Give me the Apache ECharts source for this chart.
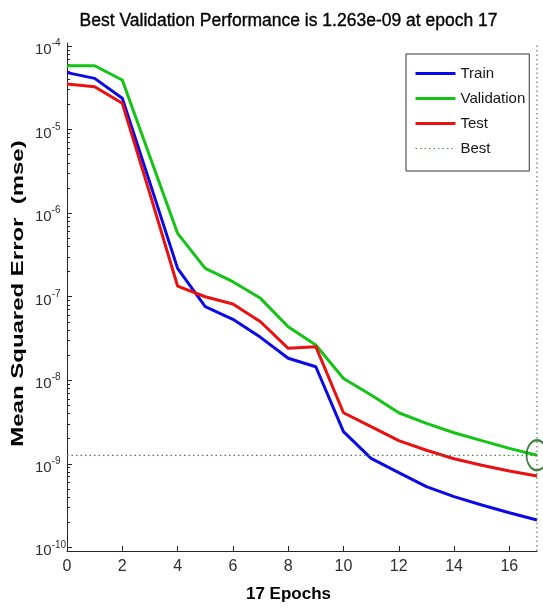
<!DOCTYPE html>
<html>
<head>
<meta charset="utf-8">
<script src="https://cdn.jsdelivr.net/npm/echarts@6/dist/echarts.min.js"></script>
<style>
  html, body { margin: 0; padding: 0; background: #fff; }
  #chart { width: 543px; height: 608px; }
</style>
</head>
<body>
<div id="chart"></div>
<script>
// Training record: mean squared error per epoch
const epochs = [0, 1, 2, 3, 4, 5, 6, 7, 8, 9, 10, 11, 12, 13, 14, 15, 16, 17];
const trainMse = [4.80e-5, 4.10e-5, 2.37e-5, 2.30e-6, 2.18e-7, 7.59e-8, 5.36e-8, 3.26e-8, 1.83e-8, 1.45e-8,
  2.42e-9, 1.16e-9, 7.82e-10, 5.32e-10, 4.04e-10, 3.21e-10, 2.59e-10, 2.12e-10];
const validationMse = [5.81e-5, 5.81e-5, 3.92e-5, 4.73e-6, 5.73e-7, 2.18e-7, 1.51e-7, 9.55e-8, 4.37e-8, 2.64e-8,
  1.05e-8, 6.65e-9, 4.08e-9, 3.04e-9, 2.35e-9, 1.89e-9, 1.53e-9, 1.263e-9];
const testMse = [3.51e-5, 3.26e-5, 2.06e-5, 1.70e-6, 1.34e-7, 9.98e-8, 8.17e-8, 5.01e-8, 2.41e-8, 2.52e-8,
  4.08e-9, 2.78e-9, 1.89e-9, 1.45e-9, 1.15e-9, 9.59e-10, 8.20e-10, 7.12e-10];

const bestEpoch = 17;
const bestPerf = 1.263e-9;

const xTickValues = [0, 2, 4, 6, 8, 10, 12, 14, 16];
const yTickValues = [1e-10, 1e-9, 1e-8, 1e-7, 1e-6, 1e-5, 1e-4];

const titleText = 'Best Validation Performance is 1.263e-09 at epoch 17';
const xLabelText = '17 Epochs';
const yLabelText = 'Mean Squared Error  (mse)';

// axis limits (slightly padded decades)
const yMin = Math.pow(10, -10.044);
const yMax = Math.pow(10, -3.964);
const xMin = 0, xMax = 17;

// minor log ticks 2..9 within every decade
const yMinorTicks = [];
for (let d = -11; d <= -4; d++) {
  for (let k = 2; k <= 9; k++) {
    const v = k * Math.pow(10, d);
    if (v > yMin && v < yMax) yMinorTicks.push(v);
  }
}

const SANS = '"Liberation Sans", Arial, sans-serif';
const AXIS_COLOR = '#262626';
const LABEL_COLOR = '#2e2e2e';

const COLORS = { train: '#0a0ae6', validation: '#14c414', test: '#ea1010', best: '#4f824f', marker: '#176417' };

const pairs = (ys) => epochs.map((e, i) => [e, ys[i]]);

const chart = echarts.init(document.getElementById('chart'), null, { renderer: 'canvas' });

const hiddenSymbol = { color: 'rgba(0,0,0,0)', borderColor: 'rgba(0,0,0,0)', borderWidth: 0 };

const option = {
  animation: false,
  backgroundColor: '#fff',
  grid: { left: 67, right: 6, top: 43, bottom: 57, containLabel: false },
  xAxis: {
    type: 'value', min: xMin, max: xMax,
    axisLine: { show: true, onZero: false, lineStyle: { color: AXIS_COLOR, width: 1 } },
    axisTick: { show: true, inside: true, length: 5, customValues: xTickValues, lineStyle: { color: AXIS_COLOR } },
    axisLabel: { customValues: xTickValues, fontFamily: SANS, fontSize: 16, color: LABEL_COLOR, margin: 8 },
    splitLine: { show: false }
  },
  yAxis: [
    {
      type: 'log', logBase: 10, min: yMin, max: yMax,
      axisLine: { show: true, lineStyle: { color: AXIS_COLOR, width: 1 } },
      axisTick: { show: true, inside: true, length: 5, customValues: yTickValues, lineStyle: { color: AXIS_COLOR } },
      axisLabel: {
        customValues: yTickValues,
        align: 'left', margin: 32, padding: [4, 0, 0, 0],
        formatter: (v) => '{b|10}{e|' + Math.round(Math.log10(v)) + '}',
        rich: {
          b: { fontFamily: SANS, fontSize: 15, color: LABEL_COLOR, lineHeight: 19, verticalAlign: 'bottom' },
          e: { fontFamily: SANS, fontSize: 10, color: LABEL_COLOR, lineHeight: 19, verticalAlign: 'top' }
        }
      },
      splitLine: { show: false }
    },
    {
      type: 'log', logBase: 10, min: yMin, max: yMax, position: 'left',
      axisLine: { show: false },
      axisTick: { show: true, inside: true, length: 3, customValues: yMinorTicks, lineStyle: { color: AXIS_COLOR } },
      axisLabel: { show: false },
      splitLine: { show: false }
    }
  ],
  legend: {
    orient: 'vertical', left: 406, top: 54,
    padding: [12, 4, 15, 8],
    itemWidth: 40, itemHeight: 16, itemGap: 10,
    backgroundColor: '#fff', borderColor: '#333', borderWidth: 1, borderRadius: 0,
    itemStyle: hiddenSymbol,
    textStyle: { fontFamily: SANS, fontSize: 15, color: '#151515' },
    data: [
      { name: 'Train', lineStyle: { width: 3 } },
      { name: 'Validation', lineStyle: { width: 3 } },
      { name: 'Test', lineStyle: { width: 3 } },
      { name: 'Best', lineStyle: { width: 1.2 } }
    ]
  },
  series: [
    { name: 'Train', type: 'line', data: pairs(trainMse), showSymbol: false, symbol: 'none',
      lineStyle: { color: COLORS.train, width: 3 }, itemStyle: { color: COLORS.train } },
    { name: 'Validation', type: 'line', data: pairs(validationMse), showSymbol: false, symbol: 'none',
      lineStyle: { color: COLORS.validation, width: 3 }, itemStyle: { color: COLORS.validation } },
    { name: 'Test', type: 'line', data: pairs(testMse), showSymbol: false, symbol: 'none',
      lineStyle: { color: COLORS.test, width: 3 }, itemStyle: { color: COLORS.test } },
    { name: 'Best', type: 'line', data: [[xMin, bestPerf], [bestEpoch, bestPerf]], showSymbol: false, symbol: 'none',
      lineStyle: { color: COLORS.best, width: 1.2, type: [1.5, 3] }, itemStyle: { color: COLORS.best } },
    { name: 'Best', type: 'line', data: [[bestEpoch, yMin], [bestEpoch, yMax]], showSymbol: false, symbol: 'none',
      lineStyle: { color: COLORS.best, width: 1.2, type: [1.5, 3] }, itemStyle: { color: COLORS.best } },
    { name: 'bestMarker', type: 'scatter', data: [[bestEpoch, bestPerf]], symbol: 'circle', symbolSize: [21, 30],
      itemStyle: { color: 'rgba(0,0,0,0)', borderColor: COLORS.marker, borderWidth: 2 }, z: 5 }
  ],
  graphic: [
    { type: 'text', x: 288.5, y: 21, silent: true,
      style: { text: titleText, font: '17.5px ' + SANS, fill: '#000', stroke: '#000', lineWidth: 0.35,
        align: 'center', verticalAlign: 'middle' } },
    { type: 'text', x: 288.5, y: 594, silent: true,
      style: { text: xLabelText, font: 'bold 17px ' + SANS, fill: '#000', align: 'center', verticalAlign: 'middle' } },
    { type: 'text', x: 18, y: 293.5, rotation: Math.PI / 2, scaleX: 1.41, scaleY: 1, silent: true,
      style: { text: yLabelText, font: 'bold 17px ' + SANS, fill: '#000', align: 'center', verticalAlign: 'middle' } }
  ]
};

chart.setOption(option);
</script>
</body>
</html>
